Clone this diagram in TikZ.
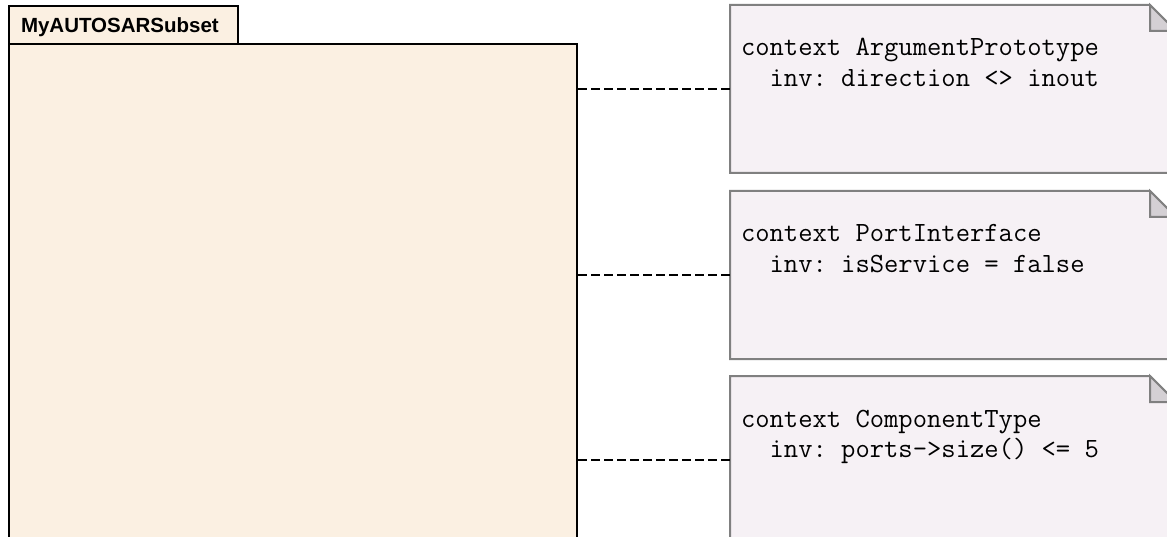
\documentclass[tikz,border=0pt]{standalone}
\usepackage{fontspec}
\setsansfont{Liberation Sans}
\usepackage{xcolor}
\usepackage{tikz}
\usetikzlibrary{positioning}

\definecolor{pkgfill}{RGB}{251,240,226}
\definecolor{notefill}{RGB}{246,241,245}
\definecolor{notedraw}{RGB}{128,128,128}
\definecolor{foldfill}{RGB}{212,208,212}

\begin{document}
\begin{tikzpicture}[x=1pt, y=-1pt, line width=2pt,
    pkgbox/.style={draw=black, fill=pkgfill, anchor=north west, inner sep=0pt},
    notebox/.style={anchor=north west, minimum width=444pt, minimum height=166pt, inner sep=0pt},
    notepaper/.style={draw=notedraw, fill=notefill},
    notefold/.style={draw=notedraw, fill=foldfill},
    notetext/.style={anchor=base west, align=left, inner sep=0pt,
      font=\ttfamily\frenchspacing\fontsize{27.8}{30.5}\selectfont},
    anchorline/.style={draw=black, dash pattern=on 9pt off 4pt}]
      \clip (0,0) rectangle (1167,537);
      % package, cut off at the bottom
      \node[pkgbox, minimum width=568pt, minimum height=520pt] (pkg) at (8,43) {};
      \node[pkgbox, minimum height=38pt, text width=205pt, inner xsep=12pt, align=left,
        text depth=0pt, font=\sffamily\bfseries\fontsize{20.5}{22}\selectfont]
        (pkgtab) at (8,5) {MyAUTOSARSubset};
      % first note
      \node[notebox] (argnote) at (730,5) {};
      \path[notepaper] (argnote.north west) -- ([xshift=-26pt]argnote.north east)
        -- ([yshift=-26pt]argnote.north east) -- (argnote.south east)
        -- (argnote.south west) -- cycle;
      \path[notefold] ([xshift=-26pt]argnote.north east)
        -- ([xshift=-26pt,yshift=-26pt]argnote.north east)
        -- ([yshift=-26pt]argnote.north east) -- cycle;
      \node[notetext] (argtext) at ([xshift=10pt,yshift=-81.5pt]argnote.north west)
        {context ArgumentPrototype\\\phantom{xx}inv: direction <> inout};
      % second note
      \node[notebox] (portnote) at (730,191) {};
      \path[notepaper] (portnote.north west) -- ([xshift=-26pt]portnote.north east)
        -- ([yshift=-26pt]portnote.north east) -- (portnote.south east)
        -- (portnote.south west) -- cycle;
      \path[notefold] ([xshift=-26pt]portnote.north east)
        -- ([xshift=-26pt,yshift=-26pt]portnote.north east)
        -- ([yshift=-26pt]portnote.north east) -- cycle;
      \node[notetext] (porttext) at ([xshift=10pt,yshift=-81.5pt]portnote.north west)
        {context PortInterface\\\phantom{xx}inv: isService = false};
      % third note, cut off at the bottom
      \node[notebox] (compnote) at (730,376) {};
      \path[notepaper] (compnote.north west) -- ([xshift=-26pt]compnote.north east)
        -- ([yshift=-26pt]compnote.north east) -- (compnote.south east)
        -- (compnote.south west) -- cycle;
      \path[notefold] ([xshift=-26pt]compnote.north east)
        -- ([xshift=-26pt,yshift=-26pt]compnote.north east)
        -- ([yshift=-26pt]compnote.north east) -- cycle;
      \node[notetext] (comptext) at ([xshift=10pt,yshift=-81.5pt]compnote.north west)
        {context ComponentType\\\phantom{xx}inv: ports->size() <= 5};
      % note anchors
      \draw[anchorline] (pkg.east |- argnote.west) -- (argnote.west);
      \draw[anchorline] (pkg.east |- portnote.west) -- (portnote.west);
      \draw[anchorline] (pkg.east |- compnote.west) -- (compnote.west);
    \end{tikzpicture}
\end{document}
